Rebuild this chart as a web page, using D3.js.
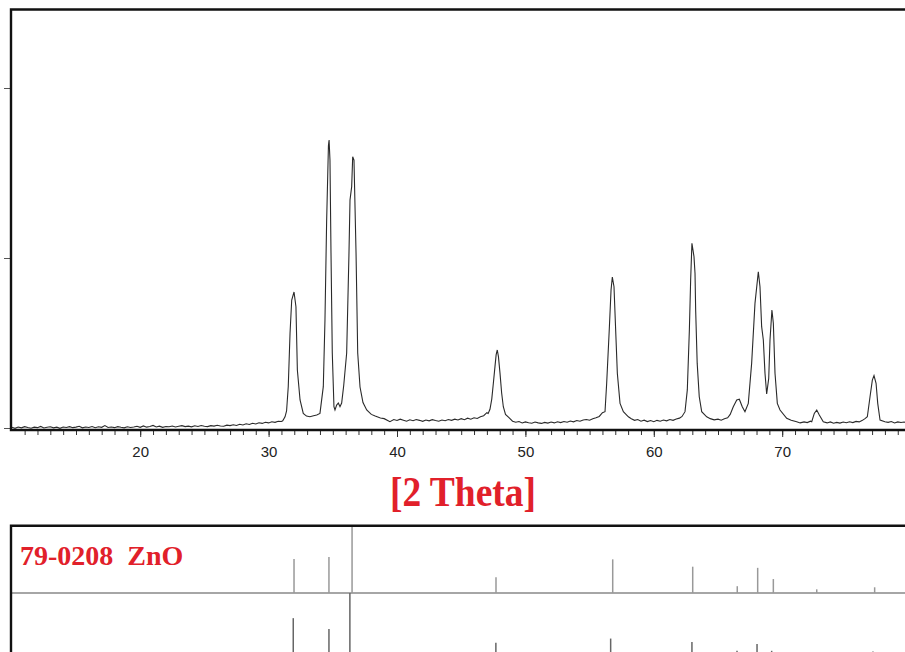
<!DOCTYPE html>
<html>
<head>
<meta charset="utf-8">
<script src="https://cdn.jsdelivr.net/npm/d3@7"></script>
<style>
  body { margin: 0; background: #fff; }
  svg { display: block; }
</style>
</head>
<body>
<div id="chart"></div>
<script>
// measured scan, [2theta, counts]
const scan = [
  [10.00,4],[10.25,-2],[10.50,6],[10.75,1],[11.00,8],[11.25,3],[11.50,-1],[11.75,5],[12.00,2],[12.25,9],
  [12.50,0],[12.75,4],[13.00,7],[13.25,1],[13.50,5],[13.75,-2],[14.00,6],[14.25,3],[14.50,8],[14.75,2],
  [15.00,5],[15.25,10],[15.50,1],[15.75,6],[16.00,3],[16.25,9],[16.50,2],[16.75,7],[17.00,4],[17.25,14],
  [17.50,3],[17.75,6],[18.00,2],[18.25,8],[18.50,4],[18.75,1],[19.00,7],[19.25,3],[19.50,6],[19.75,10],
  [20.00,4],[20.25,12],[20.50,5],[20.75,9],[21.00,15],[21.25,6],[21.50,11],[21.75,4],[22.00,9],[22.25,7],
  [22.50,12],[22.75,6],[23.00,10],[23.25,14],[23.50,8],[23.75,11],[24.00,7],[24.25,13],[24.50,9],[24.75,15],
  [25.00,10],[25.25,8],[25.50,14],[25.75,11],[26.00,16],[26.25,12],[26.50,10],[26.75,17],[27.00,14],[27.25,19],
  [27.50,15],[27.75,22],[28.00,18],[28.25,25],[28.50,21],[28.75,28],[29.00,24],[29.25,31],[29.50,27],[29.75,34],
  [30.00,30],[30.25,37],[30.50,33],[30.75,40],[31.00,38],[31.10,42],[31.28,66],[31.40,100],[31.53,243],[31.67,559],
  [31.80,753],[31.98,800],[32.13,713],[32.24,341],[32.45,165],[32.70,86],[32.95,70],[33.22,66],[33.50,72],[33.75,76],
  [34.00,86],[34.26,243],[34.39,635],[34.52,1218],[34.66,1660],[34.71,1694],[34.78,1576],[34.86,1029],[34.96,441],[35.09,125],
  [35.17,106],[35.30,135],[35.43,147],[35.56,125],[35.69,147],[35.85,250],[36.08,441],[36.26,1029],[36.34,1341],[36.47,1420],
  [36.55,1596],[36.65,1576],[36.81,1029],[36.94,441],[37.12,241],[37.35,150],[37.64,106],[38.00,80],[38.30,70],[38.71,59],
  [39.00,55],[39.45,37],[39.75,50],[40.00,44],[40.25,52],[40.50,46],[40.75,40],[41.00,48],[41.25,43],[41.50,50],
  [41.75,45],[42.00,39],[42.25,47],[42.50,42],[42.75,49],[43.00,44],[43.25,40],[43.50,47],[43.75,43],[44.00,50],
  [44.25,45],[44.50,52],[44.75,47],[45.00,55],[45.25,49],[45.50,58],[45.75,52],[46.00,60],[46.25,56],[46.50,66],
  [46.75,72],[47.00,90],[47.10,85],[47.24,110],[47.38,170],[47.50,260],[47.63,361],[47.72,430],[47.81,459],[47.90,420],
  [48.02,324],[48.15,206],[48.28,125],[48.45,80],[48.70,62],[49.00,40],[49.25,34],[49.50,38],[49.75,30],[50.00,36],
  [50.25,31],[50.50,28],[50.75,35],[51.00,30],[51.25,27],[51.50,33],[51.75,29],[52.00,35],[52.25,30],[52.50,37],
  [52.75,32],[53.00,38],[53.25,34],[53.50,41],[53.75,36],[54.00,44],[54.25,40],[54.50,47],[54.75,50],[55.00,46],
  [55.25,55],[55.50,60],[55.75,68],[56.00,90],[56.20,96],[56.33,263],[56.53,576],[56.67,812],[56.77,888],[56.90,831],
  [57.06,518],[57.16,322],[57.37,145],[57.63,96],[58.02,66],[58.25,55],[58.50,45],[58.75,50],[59.00,40],[59.25,46],
  [59.50,38],[59.75,44],[60.00,37],[60.25,45],[60.50,40],[60.75,47],[61.00,42],[61.25,50],[61.50,45],[61.75,53],
  [62.00,58],[62.20,68],[62.43,96],[62.61,224],[62.77,576],[62.87,871],[62.97,1086],[63.13,1008],[63.21,910],[63.26,694],
  [63.38,380],[63.54,184],[63.73,96],[64.12,66],[64.40,55],[64.70,48],[65.00,52],[65.25,46],[65.50,55],[65.75,60],
  [65.95,80],[66.19,125],[66.46,165],[66.66,169],[66.89,125],[67.10,96],[67.36,145],[67.62,380],[67.88,733],[68.14,919],
  [68.27,831],[68.40,596],[68.53,518],[68.66,322],[68.79,200],[68.95,292],[69.05,518],[69.20,694],[69.31,616],[69.44,322],
  [69.62,145],[69.83,106],[70.35,57],[70.70,45],[71.13,37],[71.40,30],[71.70,36],[71.95,32],[72.20,40],[72.30,37],
  [72.50,86],[72.69,106],[72.89,76],[73.20,37],[73.50,30],[73.75,36],[74.00,28],[74.25,33],[74.50,29],[74.75,35],
  [75.00,31],[75.25,37],[75.50,32],[75.75,39],[76.00,36],[76.25,45],[76.45,55],[76.63,66],[76.84,184],[77.02,282],
  [77.15,308],[77.31,263],[77.44,145],[77.62,47],[78.00,37],[78.25,33],[78.50,38],[78.75,30],[79.00,36],[79.25,32],
  [79.50,35],[79.75,31],[80.00,34]
];

const xTicks = [20, 30, 40, 50, 60, 70];
const yTicks = [0, 1000, 2000];

// reference card 79-0208 (relative intensity %)
const refAngles = [31.98, 34.70, 36.50, 47.71, 56.80, 63.03, 66.50, 68.09, 69.31, 72.69, 77.20];
const refRel    = [50, 53, 100, 23, 49.5, 38.7, 10, 37, 20.5, 5.4, 8.4];

// second stick pattern (lower row, cut off at the bottom)
const stickAngles = [31.92, 34.70, 36.33, 47.70, 56.64, 62.97, 66.48, 68.04, 69.18, 77.07];
const stickRel    = [63, 47, 100, 27, 33, 28, 15, 25, 15, 14];

const refLabel = "79-0208  ZnO";
const axisTitle = "[2 Theta]";

function drawChart() {
    const width = 905, height = 652;
    const red = "#e1202a";
    const svg = d3.select("#chart").append("svg")
        .attr("width", width).attr("height", height)
        .style("background", "#fff");

    const x = d3.scaleLinear().domain([10, 80]).range([11.8, 910.6]);
    const y = d3.scaleLinear().domain([0, 2000]).range([428, 88]);

    svg.append("defs").append("clipPath").attr("id", "plot-clip")
        .append("rect").attr("x", 11).attr("y", 10).attr("width", width - 11).attr("height", 420);

    // x ticks: minor every degree, labelled every 10
    svg.append("g")
        .attr("transform", "translate(0,430)")
        .call(d3.axisBottom(x).tickValues(d3.range(11, 80)).tickSize(5).tickFormat(""))
        .call(g => g.select(".domain").remove())
        .call(g => g.selectAll("line").attr("stroke", "#333"));

    svg.append("g")
        .attr("transform", "translate(0,430)")
        .call(d3.axisBottom(x).tickValues(xTicks).tickSize(7).tickPadding(9))
        .call(g => g.select(".domain").remove())
        .call(g => g.selectAll("line").attr("stroke", "#333"))
        .call(g => g.selectAll("text")
            .attr("fill", "#222")
            .style("font-family", "'Liberation Sans', Arial, sans-serif")
            .style("font-size", "15px"));

    svg.append("g")
        .attr("transform", "translate(11,0)")
        .call(d3.axisLeft(y).tickValues(yTicks).tickSize(7).tickFormat(""))
        .call(g => g.select(".domain").remove())
        .call(g => g.selectAll("line").attr("stroke", "#555"));

    // frame of the scan panel
    const frame = svg.append("g").attr("stroke", "#111").attr("stroke-width", 2.4).attr("fill", "none");
    frame.append("path").attr("d", `M${width},9.5H11V430H${width}`);

    const line = d3.line().x(d => x(d[0])).y(d => y(d[1]));
    svg.append("path")
        .datum(scan)
        .attr("clip-path", "url(#plot-clip)")
        .attr("fill", "none")
        .attr("stroke", "#2a2a2a")
        .attr("stroke-width", 1.1)
        .attr("d", line);

    svg.append("text")
        .attr("x", 463).attr("y", 0)
        .attr("transform", "translate(0,506) scale(1,1.12)")
        .attr("text-anchor", "middle")
        .attr("fill", red)
        .style("font-family", "'Liberation Serif', 'Times New Roman', serif")
        .style("font-weight", "bold")
        .style("font-size", "37.5px")
        .text(axisTitle);

    // stick patterns panel
    const yRef = d3.scaleLinear().domain([0, 100]).range([593, 525]);
    const yStick = d3.scaleLinear().domain([0, 100]).range([661, 593]);

    svg.append("line")
        .attr("x1", 11).attr("x2", width).attr("y1", 593).attr("y2", 593)
        .attr("stroke", "#888").attr("stroke-width", 1.4);

    svg.append("g").selectAll("line")
        .data(refAngles)
        .join("line")
        .attr("x1", d => x(d)).attr("x2", d => x(d))
        .attr("y1", yRef(0))
        .attr("y2", (d, i) => yRef(refRel[i]))
        .attr("stroke", "#999")
        .attr("stroke-width", 1.5);

    svg.append("g").selectAll("line")
        .data(stickAngles)
        .join("line")
        .attr("x1", d => x(d)).attr("x2", d => x(d))
        .attr("y1", yStick(0))
        .attr("y2", (d, i) => yStick(stickRel[i]))
        .attr("stroke", "#666")
        .attr("stroke-width", 1.5);

    svg.append("path")
        .attr("d", `M${width},525.7H11V${height}`)
        .attr("fill", "none").attr("stroke", "#111").attr("stroke-width", 2.4);

    svg.append("text")
        .attr("x", 20).attr("y", 565)
        .attr("fill", red)
        .style("white-space", "pre")
        .style("font-family", "'Liberation Serif', 'Times New Roman', serif")
        .style("font-weight", "bold")
        .style("font-size", "28px")
        .text(refLabel);
}

drawChart();
</script>
</body>
</html>
